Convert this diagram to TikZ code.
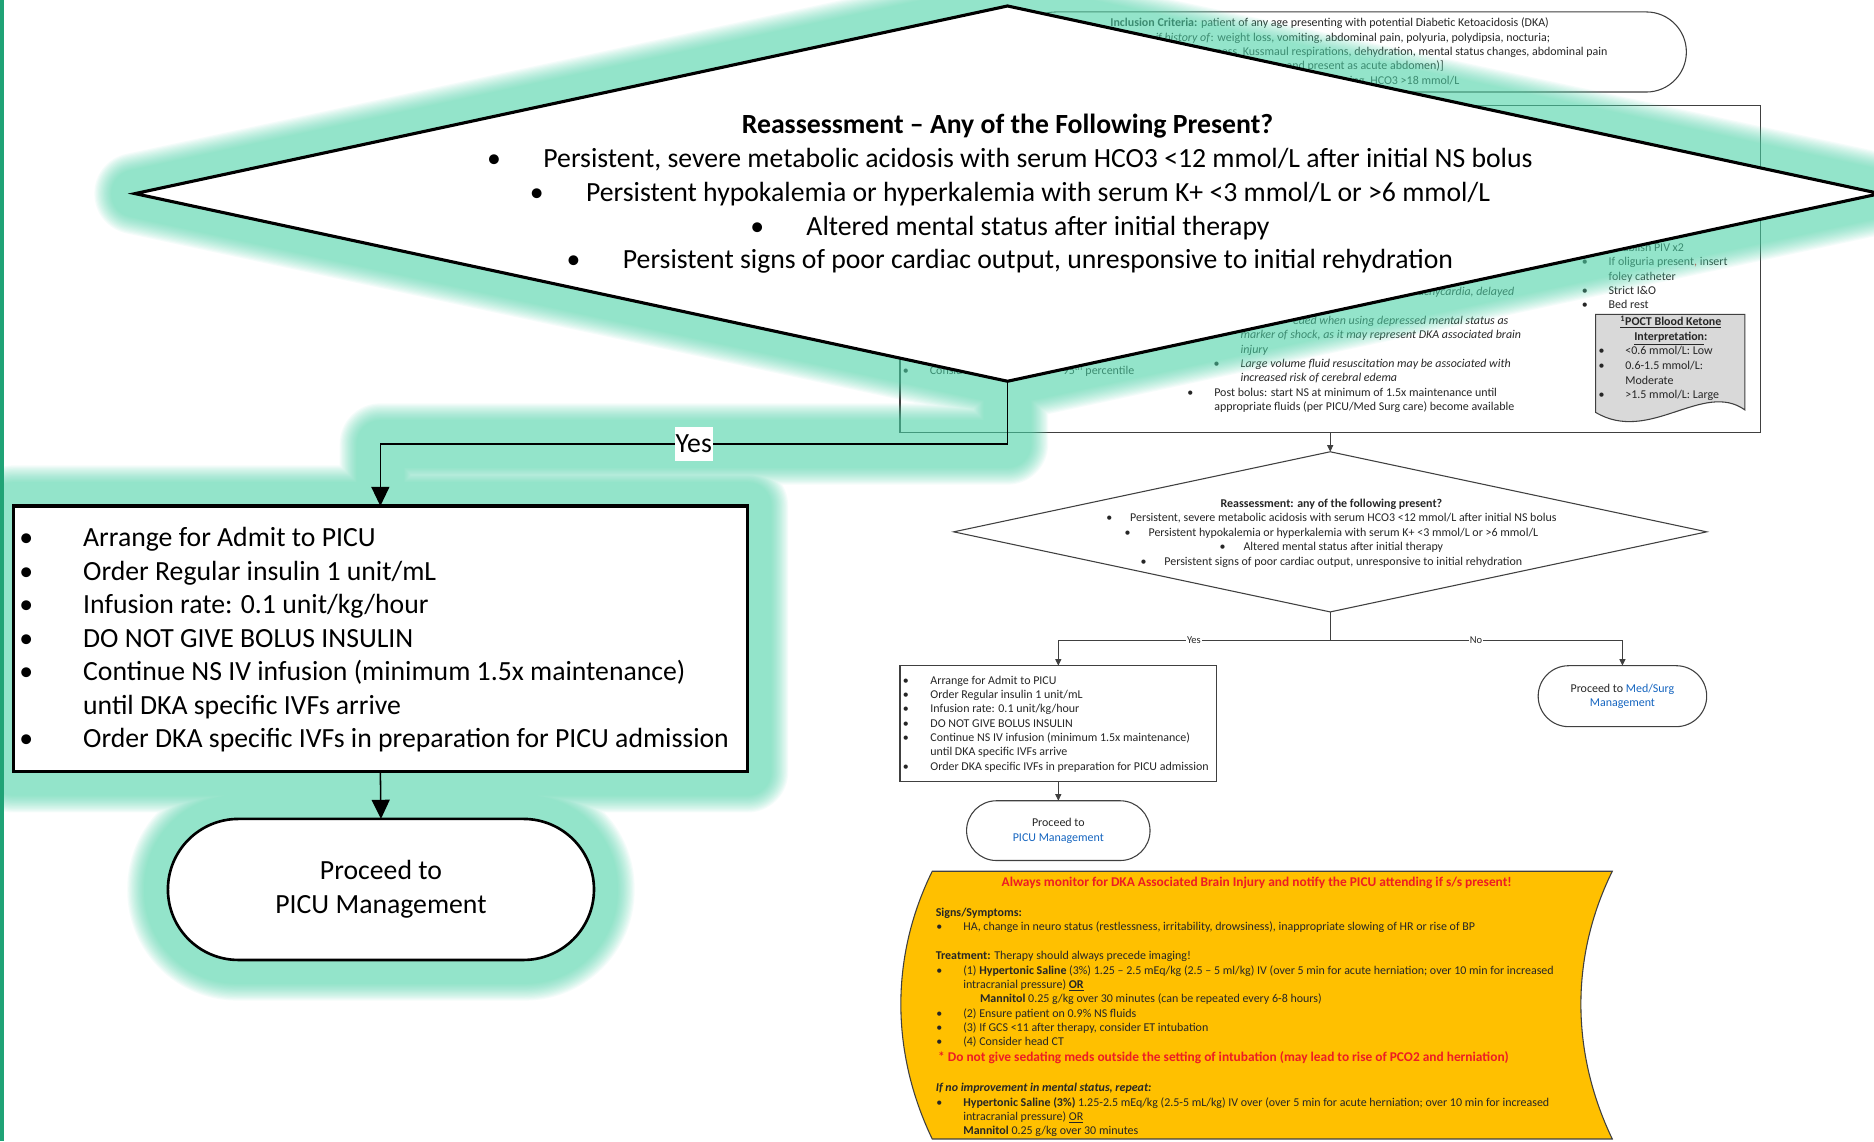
\documentclass[tikz,border=0pt]{standalone}
\usepackage{fontspec}
\setmainfont{Carlito}
\usetikzlibrary{shapes.geometric,shapes.misc,arrows.meta}
\definecolor{glowc}{RGB}{83,217,173}
\definecolor{stripe}{RGB}{32,163,118}
\definecolor{bgc}{RGB}{64,64,64}
\definecolor{txtc}{RGB}{38,38,38}
\definecolor{linkc}{RGB}{21,101,192}
\definecolor{redc}{RGB}{237,28,36}
\definecolor{yelc}{RGB}{255,192,0}
\definecolor{pocg}{RGB}{217,217,217}
\pgfdeclarelayer{bglayer}
\pgfdeclarelayer{glowlayer}
\pgfsetlayers{bglayer,glowlayer,main}
\newcommand\bigf{\fontsize{23.2}{28.2}\selectfont}
\newcommand\smf{\fontsize{10}{12.2}\selectfont}
\newcommand\redf{\fontsize{11.2}{12.2}\selectfont\bfseries}
\newcommand\bul{\makebox[20pt][l]{\textbullet}}
\newcommand\bbul{\makebox[47pt][l]{\textbullet}}
\begin{document}
\begin{tikzpicture}[x=1pt,y=-1pt,
 txt/.style={inner sep=0pt,outer sep=0pt,font=\smf,text=txtc},
 big/.style={inner sep=0pt,outer sep=0pt,font=\bigf,text=black},
 bgshape/.style={draw=bgc,line width=0.9pt,inner sep=0pt,outer sep=0pt},
 bgarrow/.style={draw=bgc,line width=0.8pt,-{Triangle[width=5pt,length=5.5pt]}},
 fgarrow/.style={draw=black,line width=1.3pt,-{Triangle[width=15pt,length=16pt]}},
 fgshape/.style={draw=black,line width=2.6pt,fill=white,inner sep=0pt,outer sep=0pt},
]
\useasboundingbox (0,0) rectangle (1568,954.7);

% ================= background flowchart =================
\begin{pgfonlayer}{bglayer}
\fill[white] (0,0) rectangle (1568,954.7);
% inclusion criteria terminator
\node[rounded rectangle, bgshape, minimum width=561pt, minimum height=67pt] (incl) at (1130.5,43.5) {};
\node[txt,anchor=base west] (inc1) at (929,22.5) {\textbf{Inclusion Criteria:} patient of any age presenting with potential Diabetic Ketoacidosis (DKA)};
\node[txt,anchor=base east] (inc2) at (1297,34.5) {\textit{if history of}: weight loss, vomiting, abdominal pain, polyuria, polydipsia, nocturia;};
\node[txt,anchor=base east] (inc3) at (1345,46.5) {ness, Kussmaul respirations, dehydration, mental status changes, abdominal pain};
\node[txt,anchor=base east] (inc4) at (1208,58.5) {and present as acute abdomen)]};
\node[txt,anchor=base east] (inc5) at (1221,70.5) {ing, HCO3 >18 mmol/L};
% big background rectangle
\node[rectangle, bgshape, minimum width=720pt, minimum height=274pt] (bgrect) at (1113,225) {};
% right column
\node[txt,anchor=base east] (rc0) at (1409,210.5) {ablish PIV x2};
\node[txt,anchor=base] (rb2) at (1326,222.5) {\textbullet};
\node[txt,anchor=base west] (rc2) at (1346,222.5) {If oliguria present{\color{redc},} insert};
\node[txt,anchor=base west] (rc3) at (1346,234.5) {foley catheter};
\node[txt,anchor=base] (rb4) at (1326,246.5) {\textbullet};
\node[txt,anchor=base west] (rc4) at (1346,246.5) {Strict I\&O};
\node[txt,anchor=base] (rb5) at (1326,258.5) {\textbullet};
\node[txt,anchor=base west] (rc5) at (1346,258.5) {Bed rest};
% POCT document shape
\path[fill=pocg, draw=bgc, line width=0.9pt] (1335,263) -- (1460,263) -- (1460,343)
  .. controls (1425,318) and (1380,372) .. (1335,345) -- cycle;
\node[txt,anchor=base,font=\smf\bfseries] (poct1) at (1398,272.5) {\underline{\textsuperscript{1}POCT Blood Ketone}};
\node[txt,anchor=base,font=\smf\bfseries] (poct2) at (1398,284.7) {\underline{Interpretation}:};
\node[txt,anchor=base] (pb1) at (1340,296.9) {\textbullet};
\node[txt,anchor=base west] (pt1) at (1360,296.9) {<0.6 mmol/L: Low};
\node[txt,anchor=base] (pb2) at (1340,309.1) {\textbullet};
\node[txt,anchor=base west] (pt2) at (1360,309.1) {0.6-1.5 mmol/L:};
\node[txt,anchor=base west] (pt3) at (1360,321.3) {Moderate};
\node[txt,anchor=base] (pb4) at (1340,333.5) {\textbullet};
\node[txt,anchor=base west] (pt4) at (1360,333.5) {>1.5 mmol/L: Large};
% middle fragments
\node[txt,anchor=base east,font=\smf\itshape] (m1) at (1267,247.5) {achycardia, delayed};
\node[txt,anchor=base east,font=\smf\itshape] (m2) at (1262,271.5) {eded when using depressed mental status as};
\node[txt,anchor=base west,font=\smf\itshape] (m3) at (1038,283.5) {marker of shock, as it may represent DKA associated brain};
\node[txt,anchor=base west,font=\smf\itshape] (m4) at (1038,295.5) {injury};
\node[txt,anchor=base] (mb5) at (1018,307.5) {\textbullet};
\node[txt,anchor=base west,font=\smf\itshape] (m5) at (1038,307.5) {Large volume fluid resuscitation may be associated with};
\node[txt,anchor=base west,font=\smf\itshape] (m6) at (1038,319.5) {increased risk of cerebral edema};
\node[txt,anchor=base] (mb7) at (996,331.5) {\textbullet};
\node[txt,anchor=base west] (m7) at (1016,331.5) {Post bolus: start NS at minimum of 1.5x maintenance until};
\node[txt,anchor=base west] (m8) at (1016,343.5) {appropriate fluids (per PICU/Med Surg care) become available};
\node[txt,anchor=base] (lb1) at (758,313.5) {\textbullet};
\node[txt,anchor=base west] (l1) at (778,313.5) {Consid};
\node[txt,anchor=base east] (l2) at (949,313.5) {95\textsuperscript{th} percentile};
% small reassessment diamond
\node[diamond, bgshape, minimum width=630pt, minimum height=134pt] (sdia) at (1113,445) {};
\node[txt, align=center] (sdiat) at (1114,446) {\textbf{Reassessment: any of the following present?}\\
 \bul Persistent, severe metabolic acidosis with serum HCO3 <12 mmol/L after initial NS bolus\\
 \bul Persistent hypokalemia or hyperkalemia with serum K+ <3 mmol/L or >6 mmol/L\\
 \bul Altered mental status after initial therapy\\
 \bul Persistent signs of poor cardiac output, unresponsive to initial rehydration};
\draw[bgarrow] (bgrect.south) -- (sdia.north);
% small box
\node[rectangle, bgshape, minimum width=265pt, minimum height=97pt] (sbox) at (885.5,605.5) {};
\node[txt,anchor=base] (sb1) at (758,572.5) {\textbullet};
\node[txt,anchor=base west] (st1) at (778.5,572.5) {Arrange for Admit to PICU};
\node[txt,anchor=base] (sb2) at (758,584.5) {\textbullet};
\node[txt,anchor=base west] (st2) at (778.5,584.5) {Order Regular insulin 1 unit/mL};
\node[txt,anchor=base] (sb3) at (758,596.5) {\textbullet};
\node[txt,anchor=base west] (st3) at (778.5,596.5) {Infusion rate: 0.1 unit/kg/hour};
\node[txt,anchor=base] (sb4) at (758,608.5) {\textbullet};
\node[txt,anchor=base west] (st4) at (778.5,608.5) {DO NOT GIVE BOLUS INSULIN};
\node[txt,anchor=base] (sb5) at (758,620.5) {\textbullet};
\node[txt,anchor=base west] (st5) at (778.5,620.5) {Continue NS IV infusion (minimum 1.5x maintenance)};
\node[txt,anchor=base west] (st6) at (778.5,632.5) {until DKA specific IVFs arrive};
\node[txt,anchor=base] (sb7) at (758,644.5) {\textbullet};
\node[txt,anchor=base west] (st7) at (778.5,644.5) {Order DKA specific IVFs in preparation for PICU admission};
% small terminators
\node[rounded rectangle, bgshape, minimum width=153.5pt, minimum height=50pt, align=center, font=\smf, text=txtc] (spicu) at (885.5,695) {Proceed to\\{\color{linkc}PICU Management}};
\node[rounded rectangle, bgshape, minimum width=141pt, minimum height=51pt, align=center, font=\smf, text=txtc] (smed) at (1357.5,582.5) {Proceed to {\color{linkc}Med/Surg}\\{\color{linkc}Management}};
% small connectors
\coordinate (sj) at (1113,535.5);
\draw[bgarrow] (sdia.south) -- (sj) -| (sbox.north);
\draw[bgarrow] (sj) -| (smed.north);
\draw[bgarrow] (sbox.south) -- (spicu.north);
\node[txt, fill=white, inner sep=0.6pt, font=\fontsize{8.8}{10}\selectfont] (sy) at (999,535.5) {Yes};
\node[txt, fill=white, inner sep=0.6pt, font=\fontsize{8.8}{10}\selectfont] (sn) at (1235,535.5) {No};
% yellow brain-injury panel
\path[fill=yelc, draw=bgc, line width=0.9pt] (780,729) -- (1349,729)
  .. controls (1314,800) and (1314,880) .. (1349,953) -- (780,953)
  .. controls (745,880) and (745,800) .. (780,729) -- cycle;
\node[txt,anchor=base,font=\redf,text=redc] (y0) at (1051.5,741.5) {Always monitor for DKA Associated Brain Injury and notify the PICU attending if s/s present!};
\node[txt,anchor=base west,font=\smf\bfseries] (y1) at (783,766.5) {Signs/Symptoms:};
\node[txt,anchor=base] (yb2) at (786,778.5) {\textbullet};
\node[txt,anchor=base west] (y2) at (806,778.5) {HA, change in neuro status (restlessness, irritability, drowsiness), inappropriate slowing of HR or rise of BP};
\node[txt,anchor=base west] (y3) at (783,802.5) {\textbf{Treatment:} Therapy should always precede imaging!};
\node[txt,anchor=base] (yb4) at (786,815) {\textbullet};
\node[txt,anchor=base west] (y4) at (806,815) {(1) \textbf{Hypertonic Saline} (3\%) 1.25 – 2.5 mEq/kg (2.5 – 5 ml/kg) IV (over 5 min for acute herniation; over 10 min for increased};
\node[txt,anchor=base west] (y5) at (806,827) {intracranial pressure) \underline{\textbf{OR}}};
\node[txt,anchor=base west] (y6) at (820,839) {\textbf{Mannitol} 0.25 g/kg over 30 minutes (can be repeated every 6-8 hours)};
\node[txt,anchor=base] (yb7) at (786,851) {\textbullet};
\node[txt,anchor=base west] (y7) at (806,851) {(2) Ensure patient on 0.9\% NS fluids};
\node[txt,anchor=base] (yb8) at (786,863) {\textbullet};
\node[txt,anchor=base west] (y8) at (806,863) {(3) If GCS <11 after therapy, consider ET intubation};
\node[txt,anchor=base] (yb9) at (786,875) {\textbullet};
\node[txt,anchor=base west] (y9) at (806,875) {(4) Consider head CT};
\node[txt,anchor=base west,font=\redf,text=redc] (y10) at (785,888) {* Do not give sedating meds outside the setting of intubation (may lead to rise of PCO2 and herniation)};
\node[txt,anchor=base west,font=\smf\bfseries\itshape] (y11) at (783,913) {If no improvement in mental status, repeat:};
\node[txt,anchor=base] (yb12) at (786,925.5) {\textbullet};
\node[txt,anchor=base west] (y12) at (806,925.5) {\textbf{Hypertonic Saline (3\%)} 1.25-2.5 mEq/kg (2.5-5 mL/kg) IV over (over 5 min for acute herniation; over 10 min for increased};
\node[txt,anchor=base west] (y13) at (806,937.5) {intracranial pressure) \underline{OR}};
\node[txt,anchor=base west] (y14) at (806,949.5) {\textbf{Mannitol} 0.25 g/kg over 30 minutes};
\end{pgfonlayer}

% ================= foreground (enlarged) part =================
\node[diamond, fgshape, minimum width=1460pt, minimum height=314pt] (bigdia) at (843,162) {};
\node[big,anchor=base,font=\bigf\bfseries] (d0) at (843,111.5) {Reassessment – Any of the Following Present?};
\node[big,anchor=base] (d1) at (845,140.3) {\bbul Persistent, severe metabolic acidosis with serum HCO3 <12 mmol/L after initial NS bolus};
\node[big,anchor=base] (d2) at (845,168.5) {\bbul Persistent hypokalemia or hyperkalemia with serum K+ <3 mmol/L or >6 mmol/L};
\node[big,anchor=base] (d3) at (845,196.7) {\bbul Altered mental status after initial therapy};
\node[big,anchor=base] (d4) at (845,224.8) {\bbul Persistent signs of poor cardiac output, unresponsive to initial rehydration};

\node[rectangle, fgshape, minimum width=614.5pt, minimum height=222.4pt] (bbox) at (318.25,534.6) {};
\node[big,anchor=base] (bb1) at (22,457.5) {\textbullet};
\node[big,anchor=base west] (bt1) at (69.6,457.5) {Arrange for Admit to PICU};
\node[big,anchor=base] (bb2) at (22,485.5) {\textbullet};
\node[big,anchor=base west] (bt2) at (69.6,485.5) {Order Regular insulin 1 unit/mL};
\node[big,anchor=base] (bb3) at (22,513.5) {\textbullet};
\node[big,anchor=base west] (bt3) at (69.6,513.5) {Infusion rate: 0.1 unit/kg/hour};
\node[big,anchor=base] (bb4) at (22,541.5) {\textbullet};
\node[big,anchor=base west] (bt4) at (69.6,541.5) {DO NOT GIVE BOLUS INSULIN};
\node[big,anchor=base] (bb5) at (22,569.5) {\textbullet};
\node[big,anchor=base west] (bt5) at (69.6,569.5) {Continue NS IV infusion (minimum 1.5x maintenance)};
\node[big,anchor=base west] (bt6) at (69.6,597.5) {until DKA specific IVFs arrive};
\node[big,anchor=base] (bb7) at (22,625.5) {\textbullet};
\node[big,anchor=base west] (bt7) at (69.6,625.5) {Order DKA specific IVFs in preparation for PICU admission};

\node[rounded rectangle, fgshape, line width=2.2pt, minimum width=356.5pt, minimum height=118pt, font=\bigf, align=center] (bterm) at (318.75,744.2) {Proceed to\\PICU Management};

\coordinate (yc1) at (843,371.5);
\coordinate (yc2) at (318.25,371.5);
\draw[fgarrow] (bigdia.south) -- (yc1) -- (yc2) -- (bbox.north);
\node[big, fill=white, minimum width=31.5pt, minimum height=29pt] (yes) at (580.5,371.5) {Yes};
\draw[fgarrow] (bbox.south) -- (bterm.north);

% glow behind the enlarged part
\begin{pgfonlayer}{glowlayer}
\foreach \w in {68,66,...,40}{
 \draw[glowc, opacity=0.0592, line width=\w pt, line join=round, line cap=round]
   (bigdia.north) -- (bigdia.east) -- (bigdia.south) -- (bigdia.west) -- cycle
   (bigdia.south) -- (yc1) -- (yc2) -- (bbox.north)
   (bbox.north west) rectangle (bbox.south east)
   (bbox.south) -- (bterm.north)
   [rounded corners=58pt] (bterm.west |- bterm.north) rectangle (bterm.east |- bterm.south);
}
\end{pgfonlayer}

\fill[stripe] (0,0) rectangle (3.4,954.7);
\end{tikzpicture}
\end{document}
